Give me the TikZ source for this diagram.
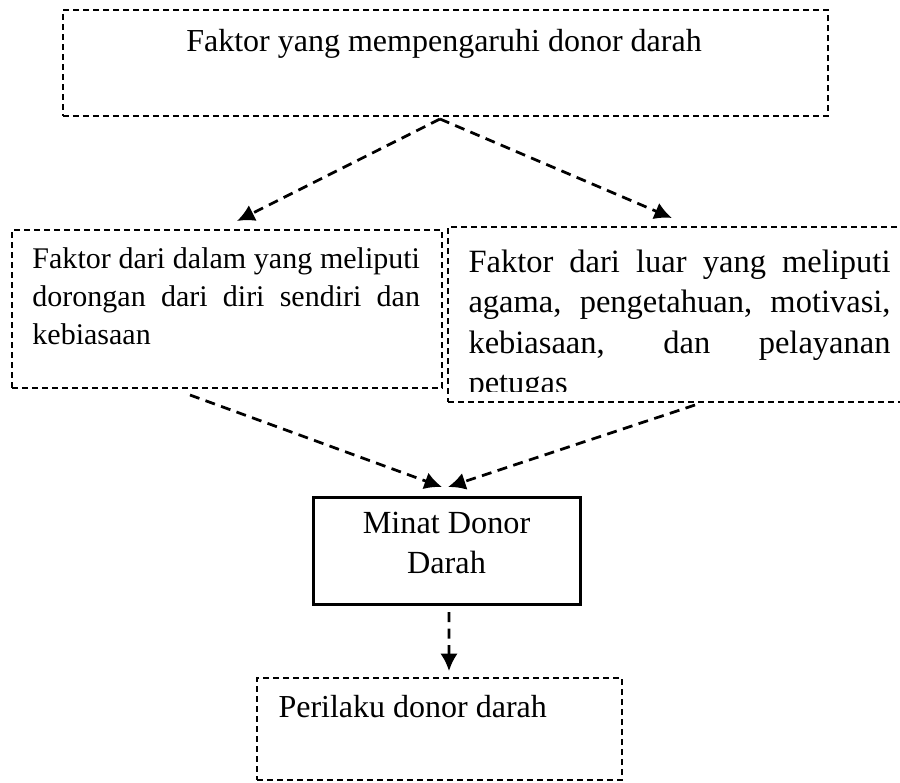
\documentclass[tikz,border=0pt]{standalone}
\usepackage{fontspec}
\setmainfont{Liberation Serif}
\usetikzlibrary{arrows.meta}
\tikzset{
  font={\fontsize{12.8pt}{15.2pt}\selectfont}}

\begin{document}
\begin{tikzpicture}[x=0.4pt, y=-0.4pt]

    \tikzset{edge/.style = {-{Latex[length=7pt, width=7pt]}, line width=1.1pt, dash pattern=on 4pt off 2.6pt}}
    \tikzset{kotak/.style = {draw, line width=0.8pt, dash pattern=on 2.4pt off 1.6pt, inner sep=0pt}}
    \tikzset{teks/.style = {inner sep=0pt}}

    \useasboundingbox (0,0) rectangle (900,782);
    \clip (0,0) rectangle (900,782);

    % kotak
    \node[kotak, minimum width=306pt, minimum height=42.4pt] (atas) at (445.5,63) {};
    \node[teks, anchor=base] (atasteks) at (444,51) {Faktor yang mempengaruhi donor darah};

    \node[kotak, minimum width=172pt, minimum height=63.2pt] (dalam) at (227,309) {};
    \node[teks, text width=155pt, align=justify, anchor=base west,
        font={\fontsize{12pt}{15.2pt}\selectfont}] (dalamteks) at (32,268)
        {Faktor dari dalam yang meliputi\linebreak dorongan dari diri sendiri dan\linebreak kebiasaan};

    \node[kotak, minimum width=188.8pt, minimum height=70pt] (luar) at (684,314.5) {};
    \begin{scope}
        \clip (450,229) rectangle (900,391);
        \node[teks, text width=168.8pt, align=justify, anchor=base west,
            font={\fontsize{13pt}{16.2pt}\selectfont}] (luarteks) at (468,272)
            {Faktor dari luar yang meliputi\linebreak agama, pengetahuan, motivasi,\linebreak kebiasaan, dan pelayanan\linebreak petugas};
    \end{scope}

    \node[draw, line width=1.2pt, minimum width=106.8pt, minimum height=42.8pt] (minat) at (446.5,551) {};
    \node[teks, align=center, anchor=base, font={\fontsize{12.9pt}{16pt}\selectfont}] (minatteks) at (446.5,573) {Minat Donor\\Darah};

    \node[kotak, minimum width=146pt, minimum height=40.8pt] (perilaku) at (439.5,729) {};
    \node[teks, anchor=base west] (perilakuteks) at (278,717) {Perilaku donor darah};

    % panah
    \draw[edge] ([xshift=-2.2pt, yshift=-0.8pt]atas.south) to ([xshift=4pt, yshift=3.2pt]dalam.north);
    \draw[edge] ([xshift=-2.2pt, yshift=-0.8pt]atas.south) to ([xshift=-4.8pt, yshift=3.2pt]luar.north);
    \draw[edge] ([xshift=-14.8pt, yshift=-2.4pt]dalam.south) to ([xshift=-1.8pt, yshift=3.6pt]minat.north);
    \draw[edge] ([xshift=4.4pt, yshift=-0.8pt]luar.south) to ([xshift=0.6pt, yshift=3.6pt]minat.north);
    \draw[edge] ([xshift=1pt, yshift=-2.4pt]minat.south) to ([xshift=3.8pt, yshift=2.4pt]perilaku.north);

\end{tikzpicture}
\end{document}
